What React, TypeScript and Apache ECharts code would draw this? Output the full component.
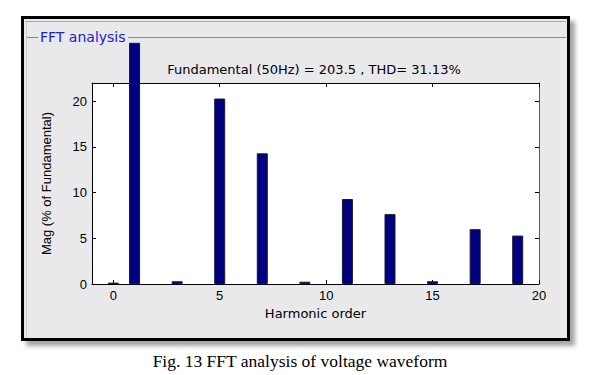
import React, { useEffect, useRef } from "react";
import * as echarts from "echarts";

const harmonicOrders = [0, 1, 3, 5, 7, 9, 11, 13, 15, 17, 19];
// Fundamental (order 1) drawn as in the picture: it runs past the plot top
const magnitudes = [0.15, 26.4, 0.3, 20.3, 14.3, 0.25, 9.3, 7.65, 0.3, 6.0, 5.3];
const xTicks = [0, 5, 10, 15, 20];
const yTicks = [0, 5, 10, 15, 20];
const titleText = "Fundamental (50Hz) = 203.5 , THD= 31.13%";
const panelTitle = "FFT analysis";
const captionText = "Fig. 13 FFT analysis of voltage waveform";

export default function App() {
  const ref = useRef<HTMLDivElement>(null);
  useEffect(() => {
    if (!ref.current) return;
    const chart = echarts.init(ref.current, null, { renderer: "svg" });
    const font = "'Liberation Sans', Arial, sans-serif";
    const wide = "'DejaVu Sans', Verdana, sans-serif";
    const data = harmonicOrders.map((h, i) => [h, magnitudes[i]]);
    const tickStyle = { show: true, inside: true, length: 4, lineStyle: { color: "#000", width: 1 } };
    chart.setOption({
      animation: false,
      backgroundColor: "#fff",
      grid: {
        left: 92,
        top: 83,
        width: 447,
        height: 201,
        show: true,
        backgroundColor: "#fff",
        borderWidth: 0,
      },
      xAxis: [
        {
          type: "value",
          min: -1,
          max: 20,
          position: "bottom",
          name: "Harmonic order",
          nameLocation: "middle",
          nameGap: 22,
          nameTextStyle: { fontFamily: wide, fontSize: 13, color: "#000" },
          axisLine: { show: true, onZero: false, lineStyle: { color: "#000", width: 1 } },
          axisTick: { ...tickStyle, customValues: xTicks },
          axisLabel: { customValues: xTicks, fontFamily: font, fontSize: 13, color: "#000", margin: 5 },
          splitLine: { show: false },
        },
        {
          type: "value",
          min: -1,
          max: 20,
          position: "top",
          axisLine: { show: true, onZero: false, lineStyle: { color: "#000", width: 1 } },
          axisTick: { ...tickStyle, customValues: xTicks },
          axisLabel: { show: false },
          splitLine: { show: false },
        },
      ],
      yAxis: [
        {
          type: "value",
          min: 0,
          max: 22,
          position: "left",
          name: "Mag (% of Fundamental)",
          nameLocation: "middle",
          nameGap: 39,
          nameTextStyle: { fontFamily: font, fontSize: 13, color: "#000" },
          axisLine: { show: true, onZero: false, lineStyle: { color: "#000", width: 1 } },
          axisTick: { ...tickStyle, customValues: yTicks },
          axisLabel: { customValues: yTicks, fontFamily: font, fontSize: 13, color: "#000", margin: 5 },
          splitLine: { show: false },
        },
        {
          type: "value",
          min: 0,
          max: 22,
          position: "right",
          axisLine: { show: true, onZero: false, lineStyle: { color: "#555", width: 1 } },
          axisTick: { ...tickStyle, customValues: yTicks },
          axisLabel: { show: false },
          splitLine: { show: false },
        },
      ],
      series: [
        {
          type: "bar",
          data,
          xAxisIndex: 0,
          yAxisIndex: 0,
          barWidth: 11,
          clip: false,
          z: 5,
          itemStyle: { color: "#000080", borderColor: "#1a1a2a", borderWidth: 1 },
        },
      ],
      graphic: [
        {
          type: "rect",
          z: -10,
          shape: { x: 22.5, y: 17.5, width: 546, height: 322 },
          style: {
            fill: "#e9e9ec",
            stroke: "#000",
            lineWidth: 3,
            shadowBlur: 4,
            shadowOffsetX: 5,
            shadowOffsetY: 5,
            shadowColor: "rgba(0,0,0,0.35)",
          },
        },
        {
          type: "line",
          z: -9,
          shape: { x1: 25, y1: 21.5, x2: 566, y2: 21.5 },
          style: { stroke: "#a8a8a8", lineWidth: 1 },
        },
        {
          type: "line",
          z: -9,
          shape: { x1: 26.5, y1: 22, x2: 26.5, y2: 337 },
          style: { stroke: "#d0d0d0", lineWidth: 1 },
        },
        {
          type: "line",
          z: -9,
          shape: { x1: 27, y1: 37.5, x2: 38, y2: 37.5 },
          style: { stroke: "#888", lineWidth: 1 },
        },
        {
          type: "line",
          z: -9,
          shape: { x1: 128, y1: 37.5, x2: 566, y2: 37.5 },
          style: { stroke: "#888", lineWidth: 1 },
        },
        {
          type: "text",
          z: 10,
          x: 40,
          y: 37,
          style: {
            text: panelTitle,
            fontFamily: wide,
            fontSize: 14,
            fill: "#2020d0",
            verticalAlign: "middle",
            align: "left",
          },
        },
        {
          type: "text",
          z: 10,
          x: 314,
          y: 69,
          style: {
            text: titleText,
            fontFamily: wide,
            fontSize: 13,
            fill: "#000",
            verticalAlign: "middle",
            align: "center",
          },
        },
        {
          type: "text",
          z: 10,
          x: 300,
          y: 361,
          style: {
            text: captionText,
            fontFamily: "'Liberation Serif', 'Times New Roman', serif",
            fontSize: 17.5,
            fill: "#000",
            verticalAlign: "middle",
            align: "center",
          },
        },
      ],
    });
    return () => chart.dispose();
  }, []);
  return (
    <div
      ref={ref}
      style={{ position: "absolute", left: 0, top: 0, width: 597, height: 375 }}
    />
  );
}
